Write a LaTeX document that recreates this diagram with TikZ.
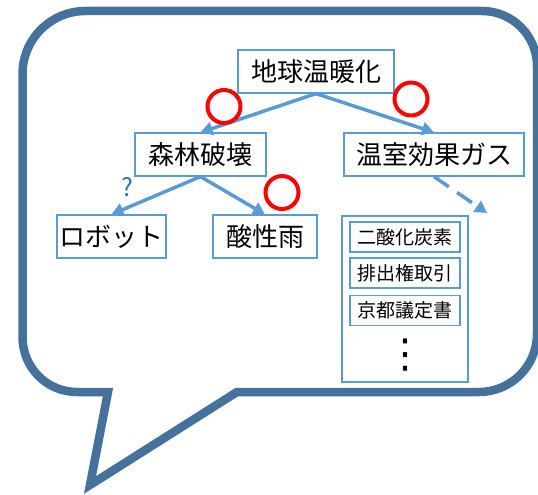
\documentclass[tikz,border=0pt]{standalone}
\usepackage{fontspec}
\newfontfamily\jp{Noto Sans CJK JP}
\newfontfamily\dv{DejaVu Sans}
\usetikzlibrary{arrows.meta}
\definecolor{bubble}{RGB}{68,114,156}
\definecolor{boxblue}{RGB}{91,155,213}
\definecolor{qblue}{RGB}{46,117,182}
\begin{document}
\begin{tikzpicture}[x=1pt,y=-1pt,
  box/.style={draw=boxblue, line width=1.2pt, fill=white, inner sep=0pt, minimum height=43pt, font=\jp\fontsize{26}{30}\selectfont},
  subbox/.style={draw=boxblue, line width=1.2pt, fill=white, inner sep=0pt, minimum width=110pt, minimum height=30pt, font=\jp\fontsize{19}{22}\selectfont},
  listbox/.style={draw=boxblue, line width=2.2pt, fill=white, inner sep=0pt, minimum width=126pt, minimum height=166pt},
  link/.style={draw=boxblue, line width=3.5pt, -{Triangle[length=12pt,width=13pt]}},
  okring/.style={draw=red, line width=4pt}]
\useasboundingbox (0,0) rectangle (538,495);
% speech bubble
\draw[bubble, line width=8.5pt, line join=miter, miter limit=20]
  (22.5,74) .. controls (22.5,39.2) and (50.7,11) .. (85.5,11)
  -- (482,11) .. controls (512.4,11) and (537,35.6) .. (537,66)
  -- (537,334) .. controls (537,366) and (511,392) .. (479,392)
  -- (237,392) -- (90,485) -- (108,392) -- (77,392)
  .. controls (46.6,392) and (22.5,367.4) .. (22.5,337) -- cycle;
% nodes
\node[box, minimum width=156pt] (top) at (316,71.5) {地球温暖化};
\node[box, minimum width=131pt] (forest) at (200.5,154.5) {森林破壊};
\node[box, minimum width=180pt] (gas) at (434,154.5) {温室効果ガス};
\node[box, minimum width=109pt] (robot) at (111.5,236.5) {ロボット};
\node[box, minimum width=104pt] (acid) at (265,236.5) {酸性雨};
\node[listbox] (list) at (405,299) {};
\node[subbox] (co2) at (405,237) {二酸化炭素};
\node[subbox] (trade) at (405,273) {排出権取引};
\node[subbox] (kyoto) at (405,310.5) {京都議定書};
\node[font=\dv\fontsize{40}{40}\selectfont, inner sep=0pt] (dots) at (405,355) {⋮};
% connectors
\draw[link] (top.south) -- (forest.north);
\draw[link] (top.south) -- (gas.north);
\draw[link] (forest.south) -- (robot.north);
\draw[link] (forest.south) -- (acid.north);
\coordinate (gasend) at (487,213);
\draw[link, dash pattern=on 18pt off 10pt] (gas.south) -- (gasend);
% marks
\draw[okring] (224,106.5) circle (16.5);
\draw[okring] (411,99) circle (16.5);
\draw[okring] (282,192.5) circle (16.5);
\node[text=qblue, font=\jp\fontsize{25}{25}\selectfont, inner sep=0pt] (q) at (127,187) {?};
\end{tikzpicture}
\end{document}
